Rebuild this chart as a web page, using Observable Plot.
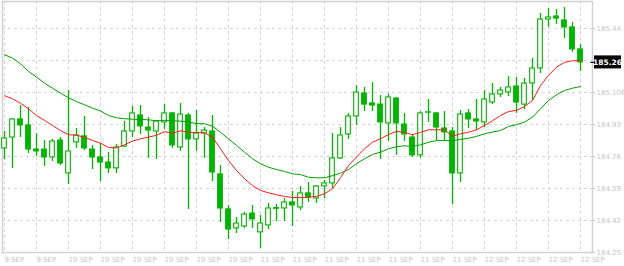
<!DOCTYPE html>
<html><head><meta charset="utf-8">
<script src="https://cdn.jsdelivr.net/npm/d3@7"></script>
<script src="https://cdn.jsdelivr.net/npm/@observablehq/plot@0.6"></script>
<style>body{margin:0;background:#fff} svg{display:block}</style>
</head><body><div id="chart"></div>
<script>
const opens  = [184.803,184.861,184.957,184.925,184.797,184.797,184.755,184.845,184.670,184.835,184.867,184.797,184.755,184.728,184.697,184.813,184.893,184.978,184.914,184.893,184.941,184.989,184.808,184.978,184.851,184.882,184.893,184.665,184.479,184.378,184.388,184.457,184.357,184.394,184.482,184.484,184.516,184.489,184.564,184.537,184.601,184.617,184.750,184.877,184.973,185.095,185.042,185.036,184.936,185.068,184.930,184.861,184.766,184.993,184.989,184.909,184.893,184.670,184.989,184.957,184.941,185.047,185.090,185.100,185.132,185.036,185.148,185.228,185.488,185.504,185.483,185.446,185.329];
const highs  = [184.893,184.962,185.031,185.021,184.882,184.845,184.851,184.861,185.111,184.909,184.973,184.819,184.829,184.782,184.824,184.946,185.026,185.031,184.967,184.952,185.036,184.994,185.042,184.989,185.005,184.914,184.978,184.712,184.500,184.436,184.463,184.500,184.447,184.511,184.505,184.537,184.574,184.601,184.622,184.606,184.633,184.882,184.914,184.989,185.137,185.127,185.153,185.084,185.090,185.074,184.989,184.877,184.999,185.063,184.994,184.999,184.914,185.005,185.010,185.063,185.111,185.148,185.127,185.185,185.180,185.175,185.281,185.520,185.547,185.541,185.552,185.472,185.355];
const lows   = [184.744,184.697,184.861,184.776,184.760,184.707,184.734,184.712,184.611,184.803,184.792,184.691,184.627,184.670,184.670,184.808,184.861,184.877,184.750,184.744,184.904,184.803,184.787,184.479,184.787,184.750,184.627,184.410,184.319,184.351,184.378,184.378,184.272,184.372,184.415,184.415,184.388,184.473,184.516,184.511,184.537,184.590,184.744,184.851,184.925,184.999,184.999,184.744,184.840,184.766,184.840,184.755,184.750,184.941,184.845,184.845,184.505,184.622,184.909,184.898,184.914,185.036,185.074,185.079,184.989,185.010,185.058,185.201,185.446,185.462,185.387,185.313,185.212];
const closes = [184.856,184.957,184.925,184.797,184.787,184.755,184.840,184.723,184.787,184.872,184.803,184.755,184.728,184.697,184.808,184.893,184.989,184.920,184.898,184.946,184.989,184.819,184.983,184.851,184.882,184.898,184.675,184.484,184.372,184.404,184.452,184.426,184.404,184.484,184.486,184.516,184.500,184.564,184.542,184.601,184.617,184.750,184.872,184.973,185.100,185.036,185.031,184.941,185.074,184.936,184.877,184.766,184.989,184.995,184.914,184.888,184.670,184.983,184.957,184.946,185.063,185.090,185.111,185.127,185.047,185.148,185.228,185.488,185.499,185.493,185.446,185.329,185.260];
const maFast = [185.083,185.067,185.043,185.014,184.978,184.952,184.925,184.898,184.876,184.873,184.863,184.845,184.831,184.808,184.806,184.822,184.842,184.854,184.863,184.873,184.892,184.884,184.897,184.889,184.888,184.886,184.863,184.801,184.739,184.686,184.642,184.606,184.580,184.567,184.557,184.548,184.542,184.542,184.544,184.548,184.562,184.589,184.647,184.712,184.757,184.801,184.836,184.854,184.877,184.893,184.889,184.876,184.888,184.902,184.902,184.902,184.867,184.881,184.889,184.902,184.925,184.950,184.978,184.999,185.005,185.026,185.058,185.137,185.191,185.235,185.260,185.269,185.269];
const maSlow = [185.301,185.283,185.253,185.212,185.182,185.150,185.123,185.097,185.072,185.052,185.035,185.017,185.002,184.978,184.966,184.961,184.958,184.957,184.955,184.950,184.952,184.950,184.948,184.943,184.935,184.934,184.921,184.889,184.854,184.819,184.783,184.748,184.722,184.703,184.691,184.681,184.668,184.664,184.650,184.647,184.647,184.658,184.672,184.691,184.722,184.748,184.771,184.783,184.801,184.812,184.817,184.813,184.822,184.836,184.845,184.845,184.845,184.851,184.857,184.867,184.881,184.890,184.898,184.920,184.929,184.943,184.969,185.014,185.058,185.088,185.111,185.123,185.132];

const xTickIndex  = [0,4,8,12,16,20,24,28,32,36,40,44,48,52,56,60,64,68,72];
const xTickLabels = ["9 SEP","9 SEP","10 SEP","10 SEP","10 SEP","10 SEP","10 SEP","10 SEP","11 SEP","11 SEP","11 SEP","11 SEP","11 SEP","11 SEP","11 SEP","12 SEP","12 SEP","12 SEP","12 SEP"];
const yTicks      = [184.25,184.42,184.59,184.76,184.93,185.10,185.27,185.44];
const yTickLabels = ["184.25","184.42","184.59","184.76","184.93","185.106","","185.44"];
const lastLabel = "185.26";

const green = "#00b400";
const candles = opens.map((o, i) => ({i, o, h: highs[i], l: lows[i], c: closes[i], up: closes[i] >= o, f: maFast[i], s: maSlow[i]}));

const chart = Plot.plot({
  width: 624, height: 266,
  marginLeft: 2, marginRight: 32, marginTop: 1, marginBottom: 14,
  style: {fontFamily: "DejaVu Sans", fontSize: "7px", background: "#fff", overflow: "visible"},
  x: {type: "linear", domain: [-0.25, 73.5], axis: null},
  y: {domain: [184.25, 185.5837], axis: null},
  marks: [
    Plot.gridX({ticks: xTickIndex, stroke: "#d6d6d6", strokeOpacity: 1, strokeDasharray: "3,3"}),
    Plot.gridY({ticks: yTicks, stroke: "#d6d6d6", strokeOpacity: 1, strokeDasharray: "3,3"}),
    Plot.frame({stroke: "#d2d2d2", strokeWidth: 1.5}),
    Plot.axisX({ticks: xTickIndex, tickFormat: d => xTickLabels[xTickIndex.indexOf(d)], tickSize: 0, tickPadding: 5, textAnchor: "start", fill: "#c4c4c4", fontSize: 7, label: null}),
    Plot.axisY({anchor: "right", ticks: yTicks, tickFormat: d => yTickLabels[yTicks.indexOf(d)], tickSize: 2, tickPadding: 2, fill: "#c4c4c4", stroke: "#c4c4c4", fontSize: 7, label: null}),
    Plot.ruleX(candles, {x: "i", y1: "l", y2: "h", stroke: green, strokeWidth: 1.3}),
    Plot.rect(candles, {x1: d => d.i - 0.29, x2: d => d.i + 0.29, y1: "o", y2: "c", fill: d => d.up ? "#fff" : green, stroke: green, strokeWidth: 1.1}),
    Plot.line(candles, {x: "i", y: "s", stroke: "#00a000", strokeWidth: 1}),
    Plot.line(candles, {x: "i", y: "f", stroke: "#ff1a1a", strokeWidth: 1}),
    Plot.ruleY([closes[closes.length - 1]], {x1: 73.3, x2: 73.75, stroke: "#000", strokeWidth: 1.2})
  ]
});
document.getElementById("chart").appendChild(chart);

// price label box on the right axis, placed with the chart's own scales
const svg = d3.select(chart);
const yPx = chart.scale("y").apply(closes[closes.length - 1]);
const xPx = chart.scale("x").apply(73.5);
const g = svg.append("g");
g.append("rect").attr("x", xPx + 2).attr("y", yPx - 6.5).attr("width", 27).attr("height", 13).attr("fill", "#000");
g.append("text").attr("x", xPx + 15.5).attr("y", yPx).attr("dy", "0.35em").attr("text-anchor", "middle")
  .attr("fill", "#fff").attr("font-family", "DejaVu Sans").attr("font-size", 7.5).attr("font-weight", "bold").text(lastLabel);
</script>
</body></html>
